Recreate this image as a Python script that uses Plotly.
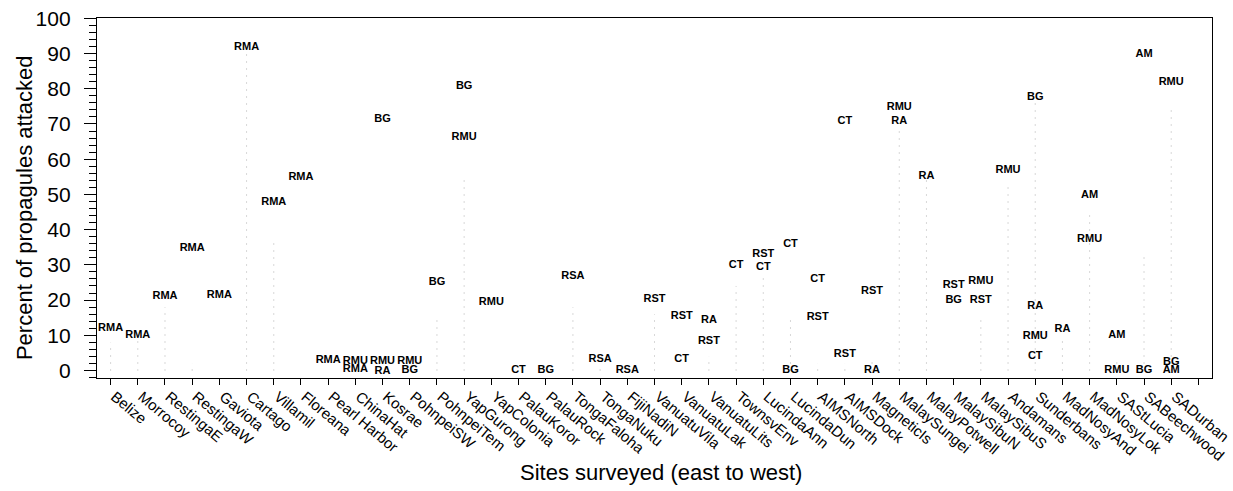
import plotly.graph_objects as go

# ---- data ----
sites = ["Belize", "Morrocoy", "RestingaE", "RestingaW", "Gaviota", "Cartago",
         "Villamil", "Floreana", "Pearl Harbor", "ChinaHat", "Kosrae", "PohnpeiSW",
         "PohnpeiTem", "YapGurong", "YapColonia", "PalauKoror", "PalauRock",
         "TongaFaloha", "TongaNuku", "FijiNadiN", "VanuatuVila", "VanuatuLak",
         "VanuatuLits", "TownsvEnv", "LucindaAnn", "LucindaDun", "AIMSNorth",
         "AIMSDock", "MagneticIs", "MalaySungei", "MalayPotwell", "MalaySibuN",
         "MalaySibuS", "Andamans", "Sunderbans", "MadNosyAnd", "MadNosyLok",
         "SAStLucia", "SABeechwood", "SADurban"]

# faint dotted guide line top per site (0 = none visible)
dotted_top = [8, 9, 18, 2, 0, 90, 37, 0, 0, 0, 0, 0, 15, 55, 0, 0, 0, 18, 2, 0,
              16, 0, 4, 24, 27, 15, 2, 2, 3, 69, 54, 0, 15, 53, 76, 9, 45, 3, 33, 75]

label_site = ["Belize", "Morrocoy", "RestingaE", "RestingaW", "Gaviota", "Cartago",
              "Villamil", "Floreana", "Pearl Harbor", "ChinaHat", "ChinaHat",
              "Kosrae", "Kosrae", "Kosrae", "PohnpeiSW", "PohnpeiSW", "PohnpeiTem",
              "YapGurong", "YapGurong", "YapColonia", "PalauKoror", "PalauRock",
              "TongaFaloha", "TongaNuku", "FijiNadiN", "VanuatuVila", "VanuatuLak",
              "VanuatuLak", "VanuatuLits", "VanuatuLits", "TownsvEnv", "LucindaAnn",
              "LucindaAnn", "LucindaDun", "LucindaDun", "AIMSNorth", "AIMSNorth",
              "AIMSDock", "AIMSDock", "MagneticIs", "MagneticIs", "MalaySungei",
              "MalaySungei", "MalayPotwell", "MalaySibuN", "MalaySibuN", "MalaySibuS",
              "MalaySibuS", "Andamans", "Sunderbans", "Sunderbans", "Sunderbans",
              "Sunderbans", "MadNosyAnd", "MadNosyLok", "MadNosyLok", "SAStLucia",
              "SAStLucia", "SABeechwood", "SABeechwood", "SADurban", "SADurban",
              "SADurban"]
label_code = ["RMA", "RMA", "RMA", "RMA", "RMA", "RMA",
              "RMA", "RMA", "RMA", "RMU", "RMA",
              "BG", "RMU", "RA", "RMU", "BG", "BG",
              "BG", "RMU", "RMU", "CT", "BG",
              "RSA", "RSA", "RSA", "RST", "RST",
              "CT", "RA", "RST", "CT", "RST",
              "CT", "CT", "BG", "CT", "RST",
              "CT", "RST", "RST", "RA", "RMU",
              "RA", "RA", "RST", "BG", "RMU",
              "RST", "RMU", "BG", "RA", "RMU",
              "CT", "RA", "AM", "RMU", "AM",
              "RMU", "AM", "BG", "RMU", "BG",
              "AM"]
label_pct = [12.1, 10.1, 21.2, 34.8, 21.4, 91.9,
             47.9, 54.9, 2.8, 2.5, 0.4,
             71.4, 2.7, -0.1, 2.7, 0.0, 25.1,
             80.8, 66.1, 19.4, 0.0, 0.0,
             26.8, 3.3, 0.0, 20.3, 15.5,
             3.3, 14.3, 8.4, 30.0, 33.1,
             29.4, 35.9, 0.0, 26.0, 15.2,
             70.9, 4.7, 22.6, 0.0, 74.8,
             70.9, 55.2, 24.3, 20.0, 25.4,
             20.0, 57.0, 77.7, 18.3, 9.8,
             4.1, 11.8, 49.8, 37.3, 10.1,
             0.0, 89.9, 0.0, 81.9, 2.4,
             0.0]

y_ticks = list(range(0, 101, 10))

FONT = "Liberation Sans, Arial, Helvetica, sans-serif"

# ---- figure ----
idx = {s: i for i, s in enumerate(sites)}
fig = go.Figure()

dx, dy = [], []
for i, top in enumerate(dotted_top):
    if top > 0:
        dx += [i, i, None]
        dy += [0, top, None]
fig.add_trace(go.Scatter(x=dx, y=dy, mode="lines",
                         line=dict(color="#b0b0b0", width=1, dash="1px,6px"),
                         hoverinfo="skip", showlegend=False))

fig.add_trace(go.Scatter(x=[idx[s] for s in label_site], y=label_pct, mode="text",
                         text=[f"<b>{c}</b>" for c in label_code],
                         textposition="middle center",
                         textfont=dict(family=FONT, size=11, color="black"),
                         hoverinfo="skip", showlegend=False))

fig.update_layout(
    width=1233, height=491,
    margin=dict(l=97, r=21, t=18, b=113, autoexpand=False),
    plot_bgcolor="white", paper_bgcolor="white",
    font=dict(family=FONT, color="black"),
    showlegend=False,
    xaxis=dict(range=[-0.5, len(sites) + 0.5],
               tickmode="array", tickvals=list(range(len(sites) + 1)),
               ticktext=sites + [""], tickangle=40,
               ticks="outside", ticklen=6, tickcolor="black", tickwidth=1,
               tickfont=dict(family=FONT, size=15, color="black"),
               ticklabeloverflow="allow", ticklabelstandoff=-3,
               ticklabelshift=4, automargin=False,
               showline=True, linecolor="black", linewidth=1.3, mirror=True,
               showgrid=False, zeroline=False),
    yaxis=dict(range=[-2.13, 100.09],
               tickmode="array", tickvals=y_ticks,
               ticks="outside", ticklen=12, tickcolor="black", tickwidth=1,
               minor=dict(dtick=2, tick0=0, ticks="outside", ticklen=7,
                          tickcolor="black", tickwidth=1, showgrid=False),
               tickfont=dict(family=FONT, size=21, color="black"),
               ticklabelstandoff=9, automargin=False,
               showline=True, linecolor="black", linewidth=1.3, mirror=True,
               showgrid=False, zeroline=False),
    annotations=[
        dict(text="Percent of propagules attacked", xref="paper", yref="paper",
             x=(24 - 97) / 1115, y=0.472, xanchor="center", yanchor="middle",
             textangle=-90, showarrow=False,
             font=dict(family=FONT, size=22, color="black")),
        dict(text="Sites surveyed (east to west)", xref="paper", yref="paper",
             x=(661 - 97) / 1115, y=(378 - 472) / 360, xanchor="center",
             yanchor="middle", showarrow=False,
             font=dict(family=FONT, size=22, color="black")),
    ],
)

fig.write_html("out.html")
